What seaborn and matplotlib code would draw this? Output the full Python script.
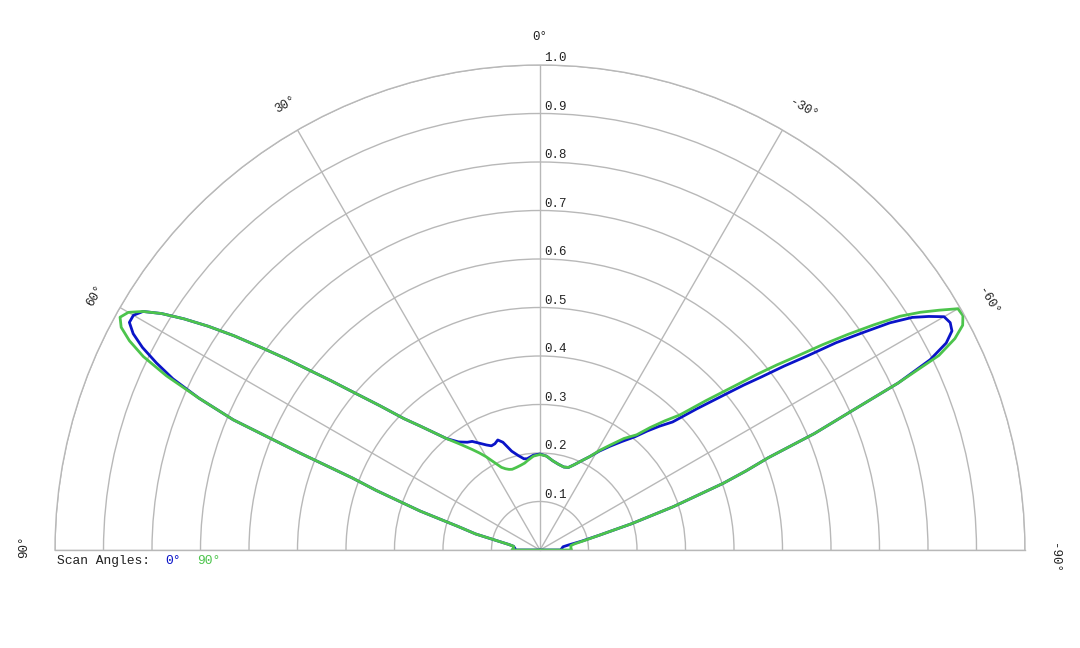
import numpy as np
import pandas as pd
import matplotlib
matplotlib.use("Agg")
import matplotlib.pyplot as plt
import seaborn as sns

# angle (deg, 0 = top, positive to the left) and normalised intensity
theta_deg = [-90, -90, -86, -82, -80, -78, -76, -74, -72, -70, -69, -68, -67, -66, -65,
             -64, -63, -62, -61, -60, -59, -58, -57, -56, -55, -54, -53, -52, -51, -50,
             -48, -46, -44, -42, -40, -37, -34, -31, -28, -25, -22, -19, -16, -12, -8,
             -4, 0, 4, 8, 10, 13, 16, 19, 21, 23, 25, 27, 30, 32, 34, 37, 40, 42, 44,
             46, 48, 50, 51, 52, 53, 54, 55, 56, 57, 58, 59, 60, 61, 62, 63, 64, 65,
             66, 67, 68, 69, 70, 72, 74, 76, 78, 80, 82, 86, 90, 90]

r_scan0 = [0.0, 0.045, 0.045, 0.048, 0.060, 0.088, 0.126, 0.196, 0.289, 0.402, 0.455, 0.507,
           0.615, 0.70, 0.815, 0.895, 0.94, 0.962, 0.967, 0.962, 0.935, 0.905, 0.86, 0.80,
           0.745, 0.68, 0.63, 0.58, 0.54, 0.50, 0.435, 0.38, 0.355, 0.33, 0.305, 0.28,
           0.258, 0.238, 0.218, 0.203, 0.19, 0.18, 0.178, 0.181, 0.186, 0.194, 0.198,
           0.196, 0.19, 0.191, 0.200, 0.212, 0.235, 0.243, 0.238, 0.237, 0.243, 0.255,
           0.264, 0.268, 0.279, 0.30, 0.325, 0.355, 0.39, 0.445, 0.512, 0.555, 0.60,
           0.655, 0.71, 0.77, 0.825, 0.875, 0.92, 0.955, 0.968, 0.968, 0.95, 0.92, 0.88,
           0.835, 0.77, 0.687, 0.535, 0.415, 0.36, 0.26, 0.175, 0.137, 0.088, 0.065,
           0.055, 0.052, 0.05, 0.0]

r_scan90 = [0.0, 0.065, 0.064, 0.064, 0.072, 0.093, 0.126, 0.196, 0.289, 0.402, 0.455, 0.507,
            0.615, 0.70, 0.815, 0.915, 0.96, 0.987, 0.997, 0.995, 0.96, 0.925, 0.885, 0.83,
            0.775, 0.72, 0.665, 0.62, 0.575, 0.53, 0.46, 0.401, 0.37, 0.34, 0.31, 0.288,
            0.262, 0.24, 0.218, 0.203, 0.19, 0.18, 0.178, 0.181, 0.186, 0.194, 0.197,
            0.194, 0.186, 0.182, 0.179, 0.177, 0.176, 0.178, 0.182, 0.188, 0.20, 0.222,
            0.236, 0.25, 0.273, 0.30, 0.325, 0.355, 0.39, 0.445, 0.512, 0.555, 0.60,
            0.655, 0.71, 0.77, 0.825, 0.875, 0.92, 0.955, 0.98, 0.99, 0.978, 0.95, 0.91,
            0.85, 0.77, 0.687, 0.535, 0.415, 0.36, 0.26, 0.175, 0.137, 0.088, 0.065,
            0.055, 0.055, 0.058, 0.0]

scan_names = ["0°", "90°"]
ring_values = [0.1, 0.2, 0.3, 0.4, 0.5, 0.6, 0.7, 0.8, 0.9, 1.0]
spoke_angles = [-90, -60, -30, 0, 30, 60, 90]

BLUE = "#0a14c8"
GREEN = "#4cc44c"
GRID = "#b8b8b8"

sns.set_style("white")
plt.rcParams["font.family"] = ["Liberation Mono", "DejaVu Sans"]

df = pd.concat([
    pd.DataFrame({"theta": np.deg2rad(theta_deg), "r": r_scan0, "scan": scan_names[0]}),
    pd.DataFrame({"theta": np.deg2rad(theta_deg), "r": r_scan90, "scan": scan_names[1]}),
], ignore_index=True)

fig = plt.figure(figsize=(10.8, 6.48), dpi=100)
# polar axes keep a square box; the half disc fills its width and sits in the middle
ax = fig.add_axes([55 / 1080, (648 - 792.5) / 648, 970 / 1080, 970 / 648], projection="polar")

sns.lineplot(data=df, x="theta", y="r", hue="scan", hue_order=scan_names,
             palette={scan_names[0]: BLUE, scan_names[1]: GREEN},
             sort=False, estimator=None, lw=2, legend=False, ax=ax)

ax.set_theta_zero_location("N")
ax.set_theta_direction(1)
ax.set_thetamin(-90)
ax.set_thetamax(90)
ax.set_ylim(0, 1)
ax.set_xlabel("")
ax.set_ylabel("")

ax.set_xticks(np.deg2rad(spoke_angles))
ax.set_xticklabels([])
ax.set_yticks(ring_values)
ax.set_yticklabels([])
ax.tick_params(length=0)
ax.grid(True, color=GRID, lw=1)
for sp in ax.spines.values():
    sp.set_color(GRID)
    sp.set_linewidth(1)

# radial labels along the 0° spoke
for rv in ring_values:
    ax.annotate(f"{rv:.1f}", xy=(0, rv), xytext=(3, 0.5), textcoords="offset points",
                ha="left", va="bottom", fontsize=9, color="#222222")

# angle labels (position of each label: angle, radius)
label_pos = {90: (89.6, 1.063), 60: (60.2, 1.056), 30: (29.8, 1.058), 0: (0, 1.058),
             -30: (-30.8, 1.06), -60: (-61.0, 1.057), -90: (-90.9, 1.06)}
for a in spoke_angles:
    th, rr = label_pos[a]
    ax.text(np.deg2rad(th), rr, f"{a}°", rotation=a, rotation_mode="anchor",
            ha="center", va="center", fontsize=9, color="#222222", clip_on=False)

# scan angle key
fig.text(57 / 1080, 1 - 561 / 648, "Scan Angles:", ha="left", va="center",
         fontsize=9.4, color="#222222")
fig.text(165 / 1080, 1 - 561 / 648, scan_names[0], ha="left", va="center",
         fontsize=9.4, color=BLUE)
fig.text(197 / 1080, 1 - 561 / 648, scan_names[1], ha="left", va="center",
         fontsize=9.4, color=GREEN)

fig.savefig("out.png", dpi=100)
plt.close(fig)
